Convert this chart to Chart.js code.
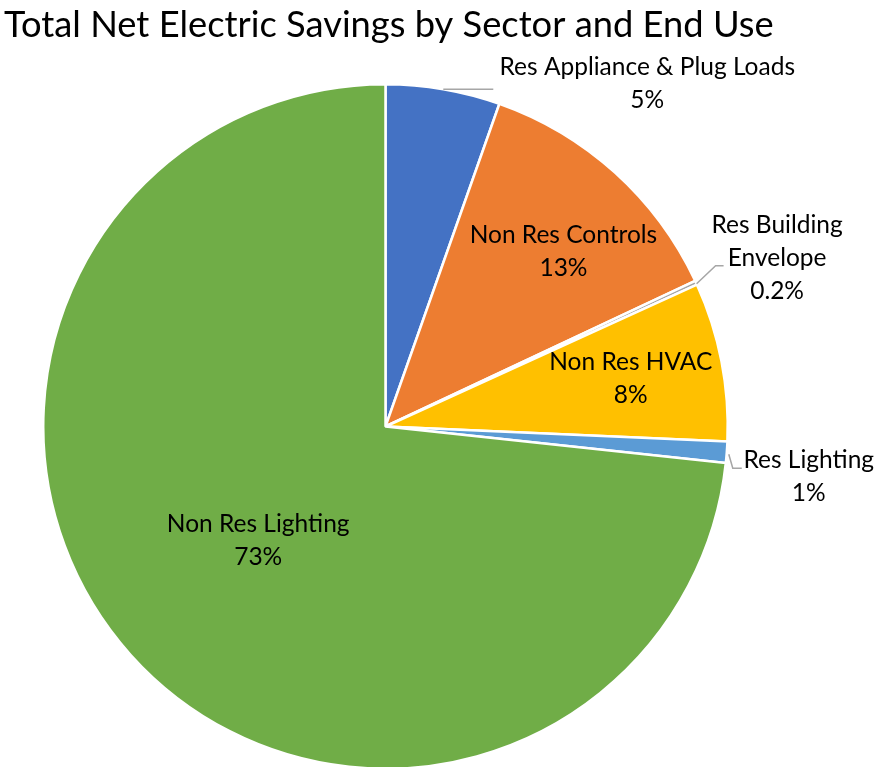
<!DOCTYPE html>
<html>
<head>
<meta charset="utf-8">
<script src="https://cdn.jsdelivr.net/npm/chart.js@4.4.1/dist/chart.umd.min.js"></script>
<style>
  html, body { margin: 0; padding: 0; background: #fff; overflow: hidden; }
  #wrap { width: 876px; height: 767px; position: relative; overflow: hidden; }
</style>
</head>
<body>
<div id="wrap"><canvas id="pieChart" width="876" height="772"></canvas></div>
<script>
const chartTitle = 'Total Net Electric Savings by Sector and End Use';
const categories = ['Res Appliance & Plug Loads', 'Non Res Controls', 'Res Building Envelope', 'Non Res HVAC', 'Res Lighting', 'Non Res Lighting'];
const shareValues = [5.4, 12.6, 0.2, 7.5, 1.0, 73.3];
const percentLabels = ['5%', '13%', '0.2%', '8%', '1%', '73%'];
const sliceColors = ['#4472C4', '#ED7D31', '#A5A5A5', '#FFC000', '#5B9BD5', '#70AD47'];

const FONT = 'Lato, "Noto Sans", sans-serif';

// how each label sits: inside at a fraction of the radius, or outside with a leader line
const labelStyle = [
  { out: true, text: ['Res Appliance & Plug Loads'], dx: 204, dy: -6, leader: [[0, 0], [50, 0]] },
  { r: 0.73, turn: 3.3, text: ['Non Res Controls'] },
  { out: true, text: ['Res Building', 'Envelope'], dx: 81, dy: -25, leader: [[0.5, 1], [19.5, -17], [27.5, -17]] },
  { r: 0.73, turn: 0, text: ['Non Res HVAC'] },
  { out: true, text: ['Res Lighting'], dx: 82, dy: 24, leader: [[2, 2], [6, 16], [15, 16]] },
  { r: 0.5, turn: 0, text: ['Non Res Lighting'] }
];

const labelPlugin = {
  id: 'sliceLabels',
  afterDraw(chart) {
    const ctx = chart.ctx;
    const arcs = chart.getDatasetMeta(0).data;
    ctx.save();
    ctx.fillStyle = '#000';
    ctx.textAlign = 'center';
    ctx.textBaseline = 'middle';
    ctx.font = '24.5px ' + FONT;
    const lineH = 33;
    arcs.forEach((arc, i) => {
      const p = arc.getProps(['x', 'y', 'startAngle', 'endAngle', 'outerRadius']);
      const st = labelStyle[i];
      const mid = (p.startAngle + p.endAngle) / 2 + (st.turn || 0) * Math.PI / 180;
      const lines = st.text.concat([percentLabels[i]]);
      let cx, cy;
      if (st.out) {
        const ex = p.x + Math.cos(mid) * p.outerRadius;
        const ey = p.y + Math.sin(mid) * p.outerRadius;
        ctx.strokeStyle = '#A6A6A6';
        ctx.lineWidth = 1.5;
        ctx.beginPath();
        st.leader.forEach((pt, k) => {
          if (k === 0) ctx.moveTo(ex + pt[0], ey + pt[1]);
          else ctx.lineTo(ex + pt[0], ey + pt[1]);
        });
        ctx.stroke();
        cx = ex + st.dx;
        cy = ey + st.dy;
      } else {
        cx = p.x + Math.cos(mid) * p.outerRadius * st.r;
        cy = p.y + Math.sin(mid) * p.outerRadius * st.r;
      }
      const top = cy - (lines.length - 1) * lineH / 2;
      lines.forEach((t, k) => ctx.fillText(t, cx, top + k * lineH));
    });
    // title
    ctx.textAlign = 'left';
    ctx.textBaseline = 'alphabetic';
    ctx.font = '36.3px ' + FONT;
    ctx.fillText(chartTitle, 4, 37);
    ctx.restore();
  }
};

new Chart(document.getElementById('pieChart').getContext('2d'), {
  type: 'pie',
  data: {
    labels: categories,
    datasets: [{
      data: shareValues,
      backgroundColor: sliceColors,
      borderColor: '#ffffff',
      borderWidth: 2.5
    }]
  },
  options: {
    responsive: false,
    animation: false,
    layout: { padding: { top: 83, bottom: 2, left: 42, right: 147 } },
    plugins: {
      legend: { display: false },
      tooltip: { enabled: false },
      title: { display: false }
    }
  },
  plugins: [labelPlugin]
});
</script>
</body>
</html>
